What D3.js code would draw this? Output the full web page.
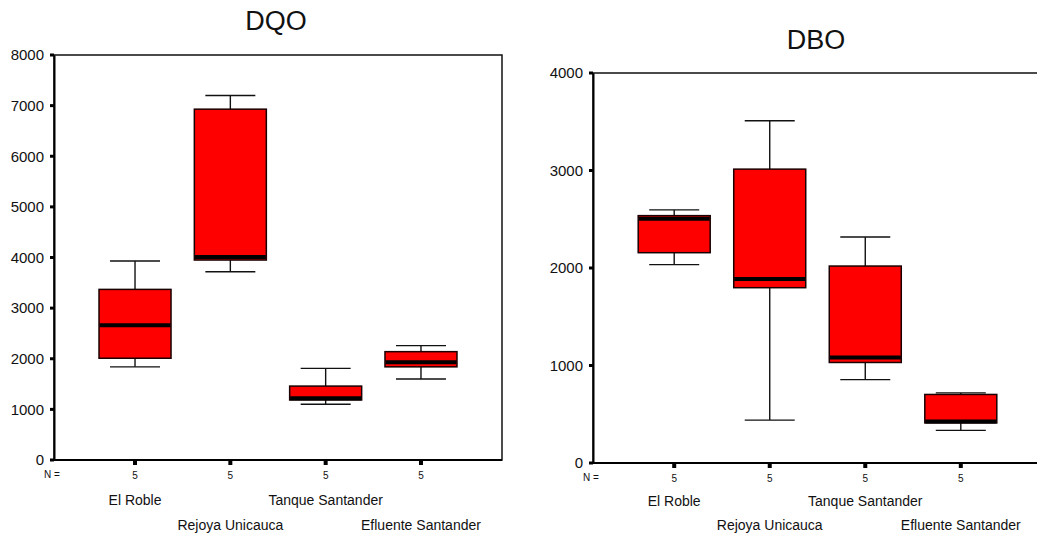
<!DOCTYPE html>
<html>
<head>
<meta charset="utf-8">
<script src="https://cdn.jsdelivr.net/npm/d3@7"></script>
<style>
  html, body { margin: 0; padding: 0; background: #fff; }
  svg { display: block; }
  text { font-family: "Liberation Sans", Arial, sans-serif; fill: #111; }
</style>
</head>
<body>
<svg id="chart" width="1037" height="536"></svg>
<script>
// Sampling sites (same order in both panels)
const categories = ["El Roble", "Rejoya Unicauca", "Tanque Santander", "Efluente Santander"];
const sampleSizes = [5, 5, 5, 5];

// DQO five-number summaries (mg/L)
const dqoMin    = [1840, 3720, 1100, 1600];
const dqoQ1     = [2010, 3950, 1185, 1840];
const dqoMedian = [2660, 4010, 1220, 1930];
const dqoQ3     = [3370, 6930, 1460, 2140];
const dqoMax    = [3930, 7200, 1810, 2260];
const dqoTicks  = [0, 1000, 2000, 3000, 4000, 5000, 6000, 7000, 8000];

// DBO five-number summaries (mg/L)
const dboMin    = [2035, 440, 855, 335];
const dboQ1     = [2157, 1798, 1031, 411];
const dboMedian = [2506, 1887, 1083, 425];
const dboQ3     = [2537, 3014, 2020, 703];
const dboMax    = [2596, 3510, 2318, 719];
const dboTicks  = [0, 1000, 2000, 3000, 4000];

const svg = d3.select("#chart");

function drawPanel(p) {
  const g = svg.append("g");
  const x = d3.scalePoint().domain(categories)
    .range([p.left, p.right]).padding(0.85);
  const y = d3.scaleLinear().domain([0, p.yMax]).range([p.bottom, p.top]);

  const rows = categories.map((c, i) => ({
    cat: c, n: sampleSizes[i],
    min: p.min[i], q1: p.q1[i], med: p.med[i], q3: p.q3[i], max: p.max[i]
  }));

  // title
  g.append("text").attr("x", p.titleX).attr("y", p.titleY)
    .attr("text-anchor", "middle").attr("font-size", 27).text(p.title);

  // frame
  g.append("rect").attr("x", p.left).attr("y", p.top)
    .attr("width", p.right - p.left).attr("height", p.bottom - p.top)
    .attr("fill", "none").attr("stroke", "#111").attr("stroke-width", 1.5);

  // y axis
  const yAxis = d3.axisLeft(y).tickValues(p.ticks).tickFormat(d3.format("d"))
    .tickSize(0).tickPadding(10);
  const ya = g.append("g").attr("transform", `translate(${p.left},0)`).call(yAxis);
  ya.select(".domain").attr("stroke", "#000").attr("stroke-width", 2);
  ya.selectAll("text").attr("font-size", 15).attr("fill", "#111");
  g.selectAll(".ytick").data(p.ticks).enter().append("rect")
    .attr("x", p.left - 4).attr("y", d => y(d) - 1.5)
    .attr("width", 4).attr("height", 3).attr("fill", "#000");

  // bottom axis line
  g.append("line").attr("x1", p.left).attr("x2", p.right)
    .attr("y1", p.bottom).attr("y2", p.bottom)
    .attr("stroke", "#000").attr("stroke-width", 2);
  g.selectAll(".xtick").data(categories).enter().append("rect")
    .attr("x", d => x(d) - 2).attr("y", p.bottom + 1)
    .attr("width", 4).attr("height", 4).attr("fill", "#000");

  // whiskers
  const capW = 50, boxW = 72;
  const b = g.selectAll(".box").data(rows).enter().append("g");
  b.append("line").attr("x1", d => x(d.cat)).attr("x2", d => x(d.cat))
    .attr("y1", d => y(d.max)).attr("y2", d => y(d.min))
    .attr("stroke", "#111").attr("stroke-width", 1.4);
  ["max", "min"].forEach(k => {
    b.append("line")
      .attr("x1", d => x(d.cat) - capW / 2).attr("x2", d => x(d.cat) + capW / 2)
      .attr("y1", d => y(d[k])).attr("y2", d => y(d[k]))
      .attr("stroke", "#111").attr("stroke-width", 1.4);
  });
  // boxes
  b.append("rect")
    .attr("x", d => x(d.cat) - boxW / 2).attr("width", boxW)
    .attr("y", d => y(d.q3)).attr("height", d => y(d.q1) - y(d.q3))
    .attr("fill", "#ff0000").attr("stroke", "#1a0000").attr("stroke-width", 1.5);
  // medians
  b.append("line")
    .attr("x1", d => x(d.cat) - boxW / 2 + 0.5).attr("x2", d => x(d.cat) + boxW / 2 - 0.5)
    .attr("y1", d => y(d.med)).attr("y2", d => y(d.med))
    .attr("stroke", "#000").attr("stroke-width", 4);

  // sample sizes
  g.append("text").attr("x", p.left - 2).attr("y", p.bottom + 18)
    .attr("text-anchor", "middle").attr("font-size", 10).text("N =");
  g.selectAll(".nlab").data(rows).enter().append("text")
    .attr("x", d => x(d.cat)).attr("y", p.bottom + 19)
    .attr("text-anchor", "middle").attr("font-size", 10).text(d => d.n);

  // category labels, staggered on two rows
  g.selectAll(".clab").data(categories).enter().append("text")
    .attr("x", d => x(d))
    .attr("y", (d, i) => i % 2 === 0 ? p.row1 : 530)
    .attr("text-anchor", "middle").attr("font-size", 14).text(d => d);
}

drawPanel({
  title: "DQO", titleX: 276, titleY: 30, row1: 505,
  left: 54, right: 502, top: 55, bottom: 460, yMax: 8000, ticks: dqoTicks,
  min: dqoMin, q1: dqoQ1, med: dqoMedian, q3: dqoQ3, max: dqoMax
});
drawPanel({
  title: "DBO", titleX: 816, titleY: 49, row1: 506,
  left: 593, right: 1042, top: 73, bottom: 463, yMax: 4000, ticks: dboTicks,
  min: dboMin, q1: dboQ1, med: dboMedian, q3: dboQ3, max: dboMax
});
</script>
</body>
</html>
